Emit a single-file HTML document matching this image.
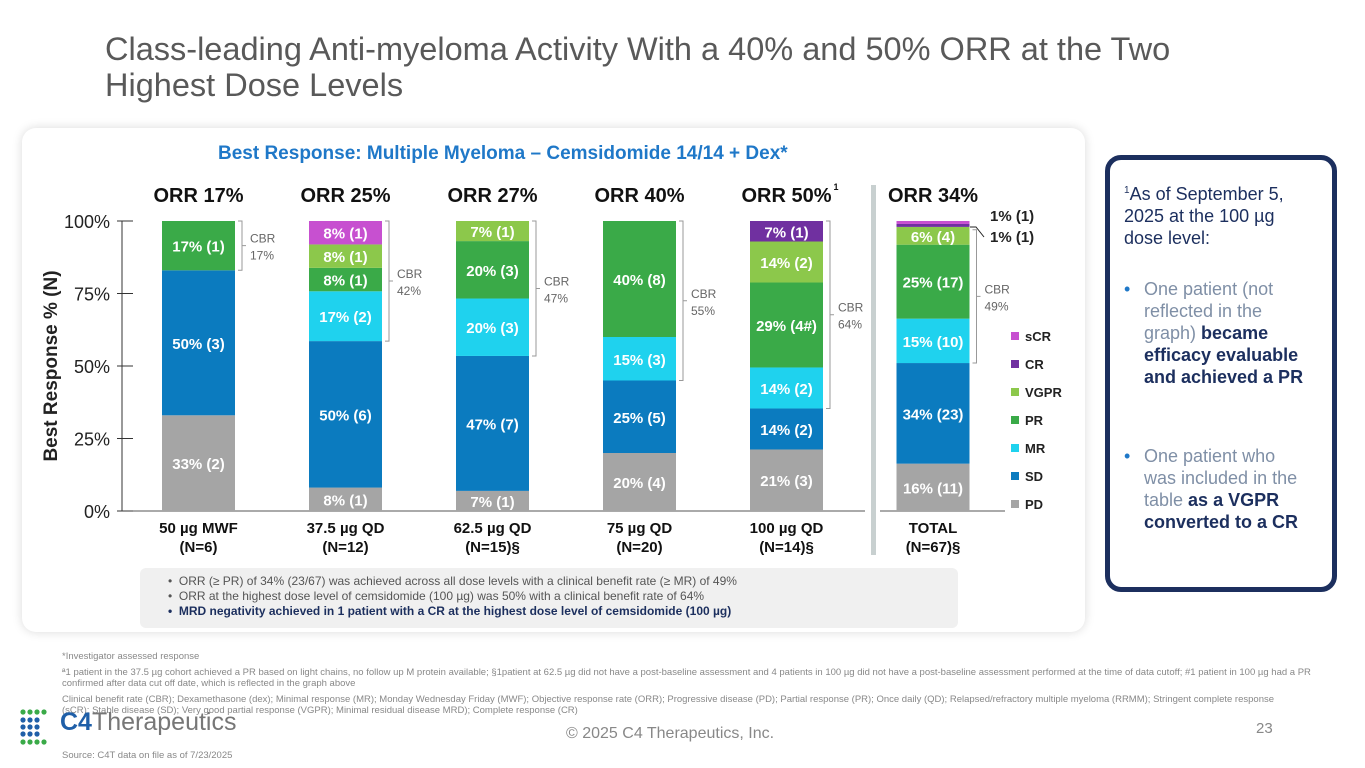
<!DOCTYPE html>
<html><head><meta charset="utf-8">
<style>
body{margin:0;width:1365px;height:768px;background:#fff;font-family:"Liberation Sans",sans-serif;position:relative;overflow:hidden}
.abs{position:absolute}
.title{left:105px;top:31px;font-size:32.5px;color:#595959;line-height:36px}
.card{left:22px;top:128px;width:1063px;height:504px;background:#fff;border-radius:14px;box-shadow:0 0 10px rgba(0,0,0,0.15)}
.note{left:1105px;top:155px;width:222px;height:427px;border:5px solid #1c2f5e;border-radius:16px;background:#fff;color:#1c2f5e}
.foot{font-size:9.5px;color:#888;left:62px}
.bul{position:absolute;left:14px;width:200px;font-size:18px;line-height:22px;color:#7f8fa6}
.bul .in{padding-left:20px;width:165px}
</style></head><body>
<div class="abs title">Class-leading Anti-myeloma Activity With a 40% and 50% ORR at the Two<br>Highest Dose Levels</div>
<div class="abs card"></div>
<div class="abs" style="left:218px;top:143px;font-size:19px;font-weight:bold;color:#1f78c8">Best Response: Multiple Myeloma – Cemsidomide 14/14 + Dex*</div>
<svg class="abs" style="left:0;top:0" width="1100" height="640" id="chart"></svg>
<div class="abs" style="left:140px;top:568px;width:818px;height:60px;background:#f0f0f0;border-radius:6px;font-size:12px;color:#555;line-height:15px;padding:6px 0 0 28px;box-sizing:border-box">
<div>•&nbsp; ORR (≥ PR) of 34% (23/67) was achieved across all dose levels with a clinical benefit rate (≥ MR) of 49%</div>
<div>•&nbsp; ORR at the highest dose level of cemsidomide (100 µg) was 50% with a clinical benefit rate of 64%</div>
<div style="color:#1c2f5e;font-weight:bold">•&nbsp; MRD negativity achieved in 1 patient with a CR at the highest dose level of cemsidomide (100 µg)</div>
</div>
<div class="abs note">
<div style="position:absolute;left:14px;top:20px;width:180px;font-size:18px;line-height:22px;color:#1c2f5e"><sup style="font-size:10px">1</sup>As of September 5, 2025 at the 100 µg dose level:</div>
<div class="bul" style="top:118px"><span style="color:#1f78c8;position:absolute;left:0">•</span><div class="in">One patient (not reflected in the graph) <b style="color:#1c2f5e">became efficacy evaluable and achieved a PR</b></div></div>
<div class="bul" style="top:285px"><span style="color:#1f78c8;position:absolute;left:0">•</span><div class="in">One patient who was included in the table <b style="color:#1c2f5e">as a VGPR converted to a CR</b></div></div>
</div>
<div class="abs foot" style="top:651px">*Investigator assessed response</div>
<div class="abs foot" style="top:667px;width:1260px;line-height:11px">ª1 patient in the 37.5 µg cohort achieved a PR based on light chains, no follow up M protein available; §1patient at 62.5 µg did not have a post-baseline assessment and 4 patients in 100 µg did not have a post-baseline assessment performed at the time of data cutoff; #1 patient in 100 µg had a PR confirmed after data cut off date, which is reflected in the graph above</div>
<div class="abs foot" style="top:694px;width:1240px;line-height:11px">Clinical benefit rate (CBR); Dexamethasone (dex); Minimal response (MR); Monday Wednesday Friday (MWF); Objective response rate (ORR); Progressive disease (PD); Partial response (PR); Once daily (QD); Relapsed/refractory multiple myeloma (RRMM); Stringent complete response (sCR); Stable disease (SD); Very good partial response (VGPR); Minimal residual disease MRD); Complete response (CR)</div>
<div class="abs" style="left:18px;top:708px;width:40px;height:40px">
<svg width="40" height="40"><g fill="#3aaa48"><circle cx="5" cy="4" r="2.6"/><circle cx="12" cy="4" r="2.6"/><circle cx="19" cy="4" r="2.6"/><circle cx="26" cy="4" r="2.6"/><circle cx="5" cy="34" r="2.6"/><circle cx="12" cy="34" r="2.6"/><circle cx="19" cy="34" r="2.6"/><circle cx="26" cy="34" r="2.6"/></g><g fill="#1f5fa8"><circle cx="5" cy="12" r="2.6"/><circle cx="12" cy="12" r="2.6"/><circle cx="19" cy="12" r="2.6"/><circle cx="5" cy="19" r="2.6"/><circle cx="12" cy="19" r="2.6"/><circle cx="19" cy="19" r="2.6"/><circle cx="5" cy="26" r="2.6"/><circle cx="12" cy="26" r="2.6"/><circle cx="19" cy="26" r="2.6"/></g></svg></div>
<div class="abs" style="left:60px;top:708px;font-size:25px;color:#777"><b style="color:#1f5fa8">C4</b>Therapeutics</div>
<div class="abs" style="left:566px;top:725px;font-size:16px;color:#888">© 2025 C4 Therapeutics, Inc.</div>
<div class="abs" style="left:1256px;top:720px;font-size:15px;color:#888">23</div>
<div class="abs foot" style="top:750px">Source: C4T data on file as of 7/23/2025</div>
<script>
const categories=["50 µg MWF","37.5 µg QD","62.5 µg QD","75 µg QD","100 µg QD","TOTAL"];
const nLabels=["(N=6)","(N=12)","(N=15)§","(N=20)","(N=14)§","(N=67)§"];
const orrLabels=["ORR 17%","ORR 25%","ORR 27%","ORR 40%","ORR 50%","ORR 34%"];
const cbrLabels=["17%","42%","47%","55%","64%","49%"];
const seriesNames=["PD","SD","MR","PR","VGPR","CR","sCR"];
const PD=[33,8,7,20,21,16];
const SD=[50,50,47,25,14,34];
const MR=[0,17,20,15,14,15];
const PR=[17,8,20,40,29,25];
const VGPR=[0,8,7,0,14,6];
const CR=[0,0,0,0,7,1];
const sCR=[0,8,0,0,0,1];
const counts={PD:[2,1,1,4,3,11],SD:[3,6,7,5,2,23],MR:[0,2,3,3,2,10],PR:[1,1,3,8,"4#",17],VGPR:[0,1,1,0,2,4],CR:[0,0,0,0,1,1],sCR:[0,1,0,0,0,1]};
const yTicks=[0,25,50,75,100];
const colors=["#a5a5a5","#0b7bbf","#1fd2ee","#3aaa48","#8cc84b","#7030a0","#c750d0"];
const series=[PD,SD,MR,PR,VGPR,CR,sCR];
const svg=document.getElementById('chart');
const NS="http://www.w3.org/2000/svg";
const y0=511,y1=221;
const y=v=>y0-(y0-y1)*v/100;
const xs=i=>162+i*147+(i==5?-0.5:0);
const bw=73;
function mk(t,a,txt){const e=document.createElementNS(NS,t);for(const k in a)e.setAttribute(k,a[k]);if(txt!==undefined)e.textContent=txt;svg.appendChild(e);return e;}
let ax=mk('line',{x1:122,y1:y1,x2:122,y2:y0,stroke:'#333'});


let bl=mk('line',{x1:122,y1:y0,x2:865,y2:y0,stroke:'#555'});


let bl2=mk('line',{x1:880,y1:y0,x2:1005,y2:y0,stroke:'#555'});


yTicks.forEach(t=>{
 let l=mk('line',{x1:117,y1:y(t),x2:133,y2:y(t),stroke:'#333'});
 
 
 let tx=mk('text',{x:110,y:y(t)+7,'text-anchor':'end','font-size':18,fill:'#222'},t+'%');
 
 
});
let yt=mk('text',{transform:'translate(57,366) rotate(-90)','text-anchor':'middle','font-size':19,'font-weight':'bold',fill:'#222'},'Best Response % (N)');


let sep=mk('rect',{x:871,y:185,width:5,height:370,fill:'#c8d0d0'});


categories.forEach((c,i)=>{
 const x=xs(i);
 let tot=0;series.forEach(s=>tot+=s[i]);
 let acc=0;let cbrTop=null,cbrBot=null;
 series.forEach((s,k)=>{
  const v=s[i];if(!v)return;
  const ya=y(acc/tot*100),yb=y((acc+v)/tot*100);
  let r=mk('rect',{x:x,y:yb,width:bw,height:ya-yb,fill:colors[k]});
  
  
  if(k>=2){if(cbrBot===null)cbrBot=ya;cbrTop=yb;}
  if(ya-yb>10){
   let t=mk('text',{x:x+bw/2,y:(ya+yb)/2+6,'text-anchor':'middle','font-size':15,'font-weight':'bold',fill:'#fff'},v+'% ('+counts[seriesNames[k]][i]+')');
   
   
  }
  acc+=v;
 });
 if(i==5){
  let t1=mk('text',{x:990,y:221,'font-size':15,'font-weight':'bold',fill:'#222'},'1% (1)');
  
  
  let t2=mk('text',{x:990,y:242,'font-size':15,'font-weight':'bold',fill:'#222'},'1% (1)');
  
  
  let l2=mk('path',{d:'M970 227 L976 227 L984 237',stroke:'#222',fill:'none'});
  
  
 }
 const bx=x+bw+3, top=(i==5?y(97):cbrTop);
 let br=mk('path',{d:`M${bx} ${top} H${bx+4} V${cbrBot} H${bx}`+` M${bx+4} ${(top+cbrBot)/2} H${bx+8}`,stroke:'#999',fill:'none'});
 
 
 const my=(top+cbrBot)/2;
 let c1=mk('text',{x:bx+12,y:my-3,'font-size':12,fill:'#666'},'CBR');
 
 
 let c2=mk('text',{x:bx+12,y:my+14,'font-size':12,fill:'#666'},cbrLabels[i]);
 
 
 let o=mk('text',{x:x+bw/2,y:202,'text-anchor':'middle','font-size':20,'font-weight':'bold',fill:'#111'},orrLabels[i]);
 
 
 if(i==4){let s=mk('text',{x:x+bw/2+47,y:190,'font-size':9,'font-weight':'bold',fill:'#111'},'1');}
 let cl=mk('text',{x:x+bw/2,y:533,'text-anchor':'middle','font-size':15,'font-weight':'bold',fill:'#111'},c);
 
 
 let nl=mk('text',{x:x+bw/2,y:552,'text-anchor':'middle','font-size':15,'font-weight':'bold',fill:'#111'},nLabels[i]);
 
 
});
for(let k=6;k>=0;k--){
 const ly=338+(6-k)*28;
 let r=mk('rect',{x:1011,y:ly-6,width:8,height:8,fill:colors[k]});
 
 
 let t=mk('text',{x:1025,y:ly+3,'font-size':13,'font-weight':'bold',fill:'#222'},seriesNames[k]);
 
 
}
</script>
</body></html>
